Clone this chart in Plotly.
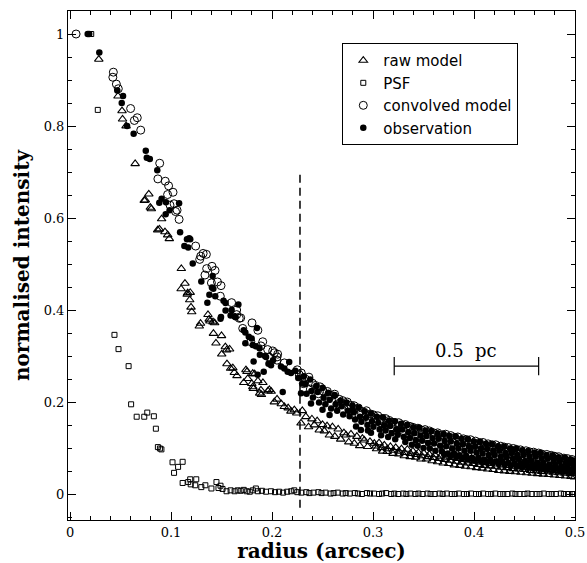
import plotly.graph_objects as go

# ---- data (radius in arcsec, normalised intensity) ----
psf_pts = [
    (0.021, 1.0), (0.0275, 0.835), (0.044, 0.346), (0.048, 0.315), (0.058, 0.278),
    (0.0605, 0.195), (0.066, 0.168), (0.0735, 0.168), (0.0765, 0.177), (0.083, 0.169),
    (0.085, 0.142), (0.087, 0.102), (0.089, 0.099), (0.0905, 0.097), (0.1015, 0.069),
    (0.107, 0.059), (0.1115, 0.070), (0.103, 0.046), (0.1115, 0.024), (0.119, 0.032),
    (0.125, 0.032), (0.117, 0.026), (0.1195, 0.021), (0.124, 0.019), (0.130, 0.015),
    (0.134, 0.019), (0.140, 0.012), (0.145, 0.026), (0.147, 0.013), (0.149, 0.018),
    (0.151, 0.011), (0.155, 0.006), (0.159, 0.008), (0.163, 0.006), (0.166, 0.008),
    (0.169, 0.007), (0.172, 0.009), (0.175, 0.006), (0.178, 0.005), (0.181, 0.008),
    (0.184, 0.012), (0.186, 0.006), (0.190, 0.007), (0.194, 0.005), (0.199, 0.006),
    (0.203, 0.004), (0.207, 0.005), (0.211, 0.003), (0.215, 0.005), (0.219, 0.006),
    (0.222, 0.008), (0.225, 0.004), (0.229, 0.003), (0.234, 0.004), (0.237, 0.002),
    (0.241, 0.003), (0.246, 0.004), (0.249, 0.002), (0.253, 0.003), (0.258, 0.001),
    (0.261, 0.002), (0.265, 0.003), (0.270, 0.001), (0.273, 0.002), (0.277, 0.001),
    (0.282, 0.002), (0.285, 0.001), (0.289, 0.000), (0.294, 0.002), (0.297, 0.001),
    (0.301, 0.001), (0.306, 0.000), (0.309, 0.001), (0.313, 0.002), (0.318, 0.000),
    (0.321, 0.001), (0.325, 0.000), (0.330, 0.001), (0.333, 0.000), (0.337, 0.001),
    (0.342, 0.000), (0.345, 0.001), (0.349, 0.000), (0.354, 0.001), (0.357, 0.000),
    (0.361, 0.000), (0.366, 0.001), (0.369, 0.000), (0.373, 0.001), (0.378, 0.000),
    (0.381, 0.000), (0.385, 0.001), (0.390, 0.000), (0.393, 0.000), (0.397, 0.001),
    (0.402, 0.000), (0.405, 0.000), (0.409, 0.001), (0.414, 0.000), (0.417, 0.000),
    (0.421, 0.001), (0.426, 0.000), (0.429, 0.000), (0.433, 0.000), (0.438, 0.001),
    (0.441, 0.000), (0.445, 0.000), (0.450, 0.000), (0.453, 0.001), (0.457, 0.000),
    (0.462, 0.000), (0.465, 0.000), (0.469, 0.001), (0.474, 0.000), (0.477, 0.000),
    (0.481, 0.000), (0.486, 0.001), (0.489, 0.000), (0.493, 0.000), (0.497, 0.000),
    (0.4995, 0.000),
]

raw_pts = [
    (0.0285, 0.945), (0.0475, 0.865), (0.0515, 0.833), (0.052, 0.815), (0.0555, 0.800),
    (0.0645, 0.718), (0.0735, 0.638), (0.0745, 0.639), (0.078, 0.652), (0.0795, 0.623),
    (0.0805, 0.620), (0.0868, 0.574), (0.0885, 0.576), (0.0907, 0.598), (0.094, 0.570),
    (0.0967, 0.563), (0.0983, 0.555), (0.1102, 0.490), (0.1138, 0.458), (0.110, 0.446),
    (0.1165, 0.437), (0.119, 0.438), (0.116, 0.434), (0.1185, 0.422), (0.1198, 0.406),
    (0.1205, 0.396), (0.128, 0.365), (0.1292, 0.371), (0.1366, 0.390), (0.1378, 0.380),
    (0.1385, 0.376), (0.1416, 0.374), (0.1432, 0.372), (0.142, 0.349), (0.150, 0.344),
    (0.1445, 0.328), (0.1538, 0.320), (0.155, 0.313), (0.158, 0.315), (0.1502, 0.304),
    (0.1554, 0.283), (0.159, 0.273), (0.1612, 0.274), (0.1627, 0.264), (0.1653, 0.257),
    (0.172, 0.242), (0.1742, 0.270), (0.1752, 0.266), (0.176, 0.251), (0.1809, 0.262),
    (0.1828, 0.261), (0.180, 0.240), (0.181, 0.233), (0.1815, 0.229), (0.186, 0.246),
    (0.189, 0.226), (0.191, 0.242), (0.1878, 0.219), (0.1895, 0.216), (0.196, 0.224),
    (0.1974, 0.227), (0.1992, 0.223), (0.2023, 0.200), (0.205, 0.206), (0.2122, 0.190),
    (0.2092, 0.196), (0.216, 0.187), (0.2221, 0.183), (0.2187, 0.180), (0.2245, 0.176),
    (0.2287, 0.154), (0.2300, 0.181), (0.2335, 0.168), (0.2362, 0.146), (0.2395, 0.163),
    (0.2419, 0.150), (0.2447, 0.159), (0.2468, 0.139), (0.2500, 0.151), (0.2518, 0.137),
    (0.2545, 0.148), (0.2568, 0.128), (0.2598, 0.146), (0.2622, 0.125), (0.2655, 0.141),
    (0.2680, 0.119), (0.2712, 0.133), (0.2733, 0.128), (0.2760, 0.113), (0.2782, 0.130),
    (0.2815, 0.110), (0.2840, 0.125), (0.2868, 0.105), (0.2895, 0.121), (0.2914, 0.117),
    (0.2947, 0.103), (0.2970, 0.114), (0.3013, 0.110), (0.3035, 0.098), (0.3060, 0.111),
    (0.3095, 0.093), (0.3112, 0.106), (0.3140, 0.092), (0.3172, 0.103), (0.3198, 0.088),
    (0.3225, 0.101), (0.3255, 0.087), (0.3282, 0.098), (0.3310, 0.083), (0.3340, 0.097),
    (0.3368, 0.081), (0.3395, 0.093), (0.3422, 0.080), (0.3450, 0.090), (0.3475, 0.076),
    (0.3502, 0.089), (0.3530, 0.076), (0.3558, 0.086), (0.3585, 0.072), (0.3612, 0.085),
    (0.3640, 0.070), (0.3668, 0.082), (0.3695, 0.067), (0.3722, 0.080), (0.3750, 0.066),
    (0.3778, 0.079), (0.3805, 0.063), (0.3832, 0.077), (0.3860, 0.062), (0.3888, 0.075),
    (0.3915, 0.060), (0.3942, 0.072), (0.3970, 0.059), (0.3998, 0.071), (0.4025, 0.057),
    (0.4052, 0.069), (0.4080, 0.056), (0.4108, 0.068), (0.4135, 0.054), (0.4162, 0.066),
    (0.4190, 0.053), (0.4218, 0.065), (0.4245, 0.051), (0.4272, 0.063), (0.4300, 0.050),
    (0.4328, 0.062), (0.4355, 0.049), (0.4382, 0.060), (0.4410, 0.048), (0.4438, 0.059),
    (0.4465, 0.047), (0.4492, 0.058), (0.4520, 0.046), (0.4548, 0.056), (0.4575, 0.045),
    (0.4602, 0.056), (0.4630, 0.044), (0.4658, 0.054), (0.4685, 0.043), (0.4712, 0.053),
    (0.4740, 0.042), (0.4768, 0.052), (0.4795, 0.041), (0.4822, 0.050), (0.4850, 0.040),
    (0.4878, 0.049), (0.4905, 0.039), (0.4932, 0.048), (0.4960, 0.038), (0.4985, 0.047),
    (0.4995, 0.037),
    (0.3028, 0.104), (0.3085, 0.101), (0.3142, 0.098), (0.3200, 0.095), (0.3256, 0.093),
    (0.3312, 0.090), (0.3370, 0.088), (0.3426, 0.086), (0.3482, 0.083), (0.3540, 0.081),
    (0.3596, 0.079), (0.3652, 0.077), (0.3710, 0.075), (0.3766, 0.073), (0.3822, 0.071),
    (0.3880, 0.069), (0.3936, 0.067), (0.3992, 0.066), (0.4050, 0.064), (0.4106, 0.062),
    (0.4162, 0.061), (0.4220, 0.060), (0.4276, 0.058), (0.4332, 0.057), (0.4390, 0.055),
    (0.4446, 0.054), (0.4502, 0.053), (0.4560, 0.051), (0.4616, 0.050), (0.4672, 0.049),
    (0.4730, 0.048), (0.4786, 0.047), (0.4842, 0.046), (0.4900, 0.045), (0.4956, 0.044),
]

conv_pts = [
    (0.006, 1.0), (0.0429, 0.917), (0.0424, 0.906), (0.0459, 0.891), (0.0478, 0.881),
    (0.0600, 0.838), (0.0666, 0.818), (0.0637, 0.812), (0.070, 0.791), (0.0888, 0.719),
    (0.087, 0.685), (0.0943, 0.680), (0.0976, 0.670), (0.102, 0.656), (0.0966, 0.651),
    (0.1030, 0.631), (0.099, 0.628), (0.106, 0.617), (0.1045, 0.614), (0.108, 0.597),
    (0.1244, 0.539), (0.1294, 0.517), (0.135, 0.521), (0.1318, 0.523), (0.1284, 0.510),
    (0.1353, 0.490), (0.1406, 0.495), (0.1436, 0.486), (0.1336, 0.476), (0.140, 0.459),
    (0.146, 0.461), (0.1495, 0.453), (0.1488, 0.430), (0.160, 0.416), (0.165, 0.400),
    (0.165, 0.390), (0.169, 0.383), (0.1676, 0.382), (0.1802, 0.372), (0.171, 0.360),
    (0.186, 0.356), (0.179, 0.331), (0.1908, 0.331), (0.189, 0.322), (0.1957, 0.314),
    (0.2007, 0.311), (0.2023, 0.307), (0.205, 0.298), (0.197, 0.298), (0.2056, 0.304),
    (0.2049, 0.291), (0.2122, 0.285), (0.225, 0.270), (0.227, 0.259),
    (0.2290, 0.263), (0.2330, 0.250), (0.2365, 0.254), (0.2400, 0.241), (0.2430, 0.236),
    (0.2475, 0.233), (0.2505, 0.224), (0.2548, 0.223), (0.2590, 0.214), (0.2620, 0.217),
    (0.2665, 0.206), (0.2700, 0.203), (0.2745, 0.200), (0.2780, 0.193), (0.2812, 0.192),
    (0.2855, 0.187), (0.2880, 0.180), (0.2935, 0.181), (0.2975, 0.174), (0.3005, 0.172),
    (0.3048, 0.170), (0.3080, 0.163), (0.3125, 0.164), (0.3160, 0.160), (0.3195, 0.156),
    (0.3255, 0.155), (0.3290, 0.150), (0.3320, 0.151), (0.3365, 0.147), (0.3395, 0.145),
    (0.3445, 0.143), (0.3480, 0.139), (0.3515, 0.140), (0.3560, 0.137), (0.3600, 0.133),
    (0.3640, 0.133), (0.3690, 0.129), (0.3720, 0.130), (0.3770, 0.127), (0.3810, 0.123),
    (0.3840, 0.124), (0.3895, 0.120), (0.3930, 0.118), (0.3965, 0.118), (0.4015, 0.115),
    (0.4055, 0.112), (0.4090, 0.112), (0.4140, 0.109), (0.4180, 0.107), (0.4215, 0.107),
    (0.4265, 0.104), (0.4300, 0.102), (0.4340, 0.101), (0.4390, 0.099), (0.4420, 0.097),
    (0.4460, 0.096), (0.4515, 0.094), (0.4545, 0.092), (0.4590, 0.091), (0.4640, 0.089),
    (0.4670, 0.087), (0.4720, 0.086), (0.4765, 0.084), (0.4800, 0.082), (0.4840, 0.081),
    (0.4890, 0.078), (0.4925, 0.077), (0.4970, 0.075),
    (0.2310, 0.240), (0.2380, 0.228), (0.2460, 0.218), (0.2560, 0.207), (0.2650, 0.196),
    (0.2760, 0.184), (0.2860, 0.173), (0.2960, 0.163), (0.3070, 0.155), (0.3180, 0.146),
    (0.3300, 0.138), (0.3420, 0.131), (0.3540, 0.124), (0.3670, 0.118), (0.3790, 0.112),
    (0.3920, 0.106), (0.4050, 0.101), (0.4180, 0.096), (0.4310, 0.091), (0.4440, 0.087),
    (0.4570, 0.083), (0.4700, 0.079), (0.4830, 0.075), (0.4960, 0.070),
    (0.3720, 0.095), (0.3880, 0.089), (0.4010, 0.083), (0.4160, 0.078), (0.4290, 0.073),
    (0.4430, 0.069), (0.4580, 0.066), (0.4720, 0.062), (0.4860, 0.058), (0.4980, 0.055),
]

obs_pts = [
    (0.0175, 1.0), (0.019, 1.0), (0.029, 0.960), (0.0468, 0.877), (0.0525, 0.865),
    (0.0512, 0.850), (0.0565, 0.800), (0.063, 0.783), (0.075, 0.746), (0.076, 0.731),
    (0.079, 0.728), (0.0864, 0.704), (0.0907, 0.642), (0.0884, 0.633), (0.095, 0.634),
    (0.108, 0.632), (0.0986, 0.617), (0.0947, 0.608), (0.109, 0.569), (0.1158, 0.554),
    (0.119, 0.554), (0.1132, 0.539), (0.117, 0.536), (0.118, 0.556), (0.1215, 0.501),
    (0.1412, 0.474), (0.130, 0.462), (0.1419, 0.446), (0.1405, 0.449), (0.138, 0.433),
    (0.1438, 0.430), (0.152, 0.420), (0.154, 0.415), (0.136, 0.416), (0.1667, 0.412),
    (0.160, 0.400), (0.154, 0.399), (0.159, 0.388), (0.163, 0.386), (0.1495, 0.385),
    (0.164, 0.384), (0.149, 0.381), (0.185, 0.361), (0.1736, 0.351), (0.172, 0.356),
    (0.1798, 0.338), (0.177, 0.342), (0.1736, 0.328), (0.1818, 0.288), (0.1809, 0.324),
    (0.1876, 0.317), (0.184, 0.321), (0.193, 0.300), (0.188, 0.303), (0.1941, 0.298),
    (0.201, 0.291), (0.199, 0.280), (0.1965, 0.283), (0.2089, 0.277), (0.217, 0.287),
    (0.1858, 0.259), (0.1918, 0.266), (0.2155, 0.266), (0.2122, 0.273), (0.2188, 0.263),
    (0.2106, 0.222), (0.2304, 0.240), (0.226, 0.252), (0.2287, 0.219), (0.2386, 0.197),
    (0.2500, 0.183), (0.2570, 0.172), (0.2620, 0.214), (0.2799, 0.183), (0.2832, 0.147),
    (0.3244, 0.139), (0.2950, 0.138), (0.4383, 0.096), (0.4780, 0.080), (0.2230, 0.268),
    (0.2315, 0.256), (0.2330, 0.239), (0.2342, 0.218),
    (0.2378, 0.249), (0.2390, 0.224), (0.2405, 0.210),
    (0.2438, 0.235), (0.2452, 0.222), (0.2466, 0.199),
    (0.2502, 0.231), (0.2511, 0.209), (0.2528, 0.195),
    (0.2556, 0.220), (0.2570, 0.205), (0.2585, 0.186),
    (0.2618, 0.215), (0.2630, 0.195), (0.2645, 0.181),
    (0.2678, 0.203), (0.2690, 0.191), (0.2705, 0.173),
    (0.2738, 0.199), (0.2752, 0.181), (0.2768, 0.169),
    (0.2797, 0.192), (0.2810, 0.178), (0.2822, 0.162),
    (0.2858, 0.188), (0.2870, 0.168), (0.2885, 0.157),
    (0.2918, 0.180), (0.2931, 0.166), (0.2945, 0.150),
    (0.2978, 0.175), (0.2990, 0.158), (0.3004, 0.146),
    (0.3038, 0.168), (0.3052, 0.155), (0.3066, 0.140),
    (0.3098, 0.167), (0.3110, 0.149), (0.3124, 0.138),
    (0.3158, 0.159), (0.3170, 0.148), (0.3185, 0.132),
    (0.3218, 0.158), (0.3231, 0.141), (0.3245, 0.129),
    (0.3278, 0.153), (0.3290, 0.140), (0.3305, 0.124),
    (0.3338, 0.150), (0.3350, 0.134), (0.3365, 0.122),
    (0.3398, 0.145), (0.3410, 0.132), (0.3425, 0.117),
    (0.3458, 0.144), (0.3470, 0.127), (0.3486, 0.116),
    (0.3518, 0.138), (0.3530, 0.126), (0.3545, 0.111),
    (0.3578, 0.137), (0.3590, 0.121), (0.3605, 0.110),
    (0.3638, 0.132), (0.3650, 0.120), (0.3665, 0.105),
    (0.3698, 0.130), (0.3710, 0.115), (0.3725, 0.104),
    (0.3758, 0.126), (0.3770, 0.114), (0.3785, 0.099),
    (0.3818, 0.125), (0.3830, 0.109), (0.3845, 0.099),
    (0.3878, 0.120), (0.3890, 0.108), (0.3905, 0.094),
    (0.3938, 0.119), (0.3950, 0.104), (0.3965, 0.094),
    (0.3998, 0.114), (0.4010, 0.103), (0.4025, 0.090),
    (0.4058, 0.113), (0.4070, 0.099), (0.4085, 0.088),
    (0.4118, 0.109), (0.4130, 0.098), (0.4145, 0.085),
    (0.4178, 0.108), (0.4190, 0.094), (0.4205, 0.085),
    (0.4238, 0.104), (0.4250, 0.094), (0.4265, 0.081),
    (0.4298, 0.103), (0.4310, 0.089), (0.4325, 0.080),
    (0.4358, 0.099), (0.4370, 0.089), (0.4385, 0.077),
    (0.4418, 0.098), (0.4430, 0.085), (0.4445, 0.076),
    (0.4478, 0.095), (0.4490, 0.085), (0.4505, 0.072),
    (0.4538, 0.093), (0.4550, 0.081), (0.4565, 0.072),
    (0.4598, 0.090), (0.4610, 0.081), (0.4625, 0.068),
    (0.4658, 0.089), (0.4670, 0.077), (0.4685, 0.068),
    (0.4718, 0.085), (0.4730, 0.077), (0.4745, 0.064),
    (0.4778, 0.084), (0.4790, 0.072), (0.4805, 0.063),
    (0.4838, 0.080), (0.4850, 0.072), (0.4865, 0.060),
    (0.4898, 0.079), (0.4910, 0.068), (0.4925, 0.059),
    (0.4958, 0.075), (0.4970, 0.067), (0.4982, 0.056),
    (0.4995, 0.073), (0.4992, 0.064), (0.4998, 0.057),
    (0.3320, 0.113), (0.3385, 0.107), (0.3442, 0.105), (0.3500, 0.100), (0.3562, 0.099),
    (0.3618, 0.094), (0.3682, 0.093), (0.3740, 0.088), (0.3802, 0.088), (0.3858, 0.084),
    (0.3922, 0.083), (0.3980, 0.079), (0.4042, 0.079), (0.4098, 0.075), (0.4160, 0.075),
    (0.4222, 0.071), (0.4280, 0.071), (0.4340, 0.068), (0.4402, 0.067), (0.4460, 0.065),
    (0.4522, 0.064), (0.4580, 0.062), (0.4642, 0.061), (0.4700, 0.059), (0.4762, 0.058),
    (0.4820, 0.056), (0.4882, 0.055), (0.4940, 0.053), (0.4990, 0.052),
    (0.3080, 0.128), (0.3150, 0.124), (0.3220, 0.119), (0.2980, 0.133), (0.2880, 0.139),
    (0.3705, 0.086), (0.3765, 0.082), (0.3825, 0.080), (0.3885, 0.078), (0.3945, 0.076),
    (0.4005, 0.073), (0.4065, 0.072), (0.4125, 0.069), (0.4185, 0.068), (0.4245, 0.066),
    (0.4305, 0.064), (0.4365, 0.062), (0.4425, 0.060), (0.4485, 0.059), (0.4545, 0.058),
    (0.4605, 0.056), (0.4665, 0.055), (0.4725, 0.053), (0.4785, 0.052), (0.4845, 0.051),
    (0.4905, 0.049), (0.4965, 0.048),
]

series_names = ["raw model", "PSF", "convolved model", "observation"]
x_ticks = [0, 0.1, 0.2, 0.3, 0.4, 0.5]
x_tick_labels = ["0", "0.1", "0.2", "0.3", "0.4", "0.5"]
y_ticks = [0, 0.2, 0.4, 0.6, 0.8, 1.0]
y_tick_labels = ["0", "0.2", "0.4", "0.6", "0.8", "1"]

core_radius = 0.2277          # dashed vertical marker
core_line_top = 0.70
scale_bar = (0.321, 0.464)    # extent of the 0.5 pc bar in arcsec
scale_bar_level = 0.278
scale_label = "0.5\u00a0 pc"

serif = "DejaVu Serif"

def xs(p):
    return [a for a, _ in p]

def ys(p):
    return [b for _, b in p]

fig = go.Figure()
fig.add_trace(go.Scatter(
    x=xs(raw_pts), y=ys(raw_pts), mode="markers", name=series_names[0],
    marker=dict(symbol="triangle-up-open", size=7.5, color="black", line=dict(width=1.1)),
))
fig.add_trace(go.Scatter(
    x=xs(psf_pts), y=ys(psf_pts), mode="markers", name=series_names[1],
    marker=dict(symbol="square-open", size=5, color="black", line=dict(width=1)),
))
fig.add_trace(go.Scatter(
    x=xs(conv_pts), y=ys(conv_pts), mode="markers", name=series_names[2],
    marker=dict(symbol="circle-open", size=8, color="black", line=dict(width=1)),
))
fig.add_trace(go.Scatter(
    x=xs(obs_pts), y=ys(obs_pts), mode="markers", name=series_names[3],
    marker=dict(symbol="circle", size=6.5, color="black"),
))

# dashed vertical line
fig.add_shape(type="line", xref="x", yref="y", x0=core_radius, x1=core_radius,
              y0=-0.03, y1=core_line_top, line=dict(color="black", width=1.5, dash="8px,5px"))
# scale bar
fig.add_shape(type="line", xref="x", yref="y", x0=scale_bar[0], x1=scale_bar[1],
              y0=scale_bar_level, y1=scale_bar_level, line=dict(color="black", width=1.2))
for sx in scale_bar:
    fig.add_shape(type="line", xref="x", yref="y", x0=sx, x1=sx,
                  y0=scale_bar_level - 0.02, y1=scale_bar_level + 0.02,
                  line=dict(color="black", width=1.2))
fig.add_annotation(x=(scale_bar[0] + scale_bar[1]) / 2, y=scale_bar_level + 0.033,
                   xref="x", yref="y", text=scale_label, showarrow=False,
                   font=dict(family=serif, size=18, color="black"))

axis_common = dict(
    showline=True, linecolor="black", linewidth=1, mirror="ticks",
    ticks="inside", ticklen=8, tickwidth=1, tickcolor="black",
    showgrid=False, zeroline=False,
    tickfont=dict(family=serif, size=13, color="black"),
)

fig.update_xaxes(
    range=[-0.002, 0.5], tickvals=x_ticks, ticktext=x_tick_labels,
    minor=dict(ticks="inside", ticklen=4, dtick=0.02, tick0=0, tickcolor="black", showgrid=False),
    title=dict(text="radius (arcsec)", font=dict(family=serif, size=20, color="black", weight="bold"),
               standoff=8),
    **axis_common,
)
fig.update_yaxes(
    range=[-0.0565, 1.05], tickvals=y_ticks, ticktext=y_tick_labels,
    minor=dict(ticks="inside", ticklen=4, dtick=0.05, tick0=0, tickcolor="black", showgrid=False),
    title=dict(text="normalised intensity", font=dict(family=serif, size=20, color="black", weight="bold"),
               standoff=8),
    **axis_common,
)

fig.update_layout(
    width=587, height=563,
    margin=dict(l=68, r=12, t=11, b=43, autoexpand=False),
    plot_bgcolor="white", paper_bgcolor="white",
    legend=dict(
        x=0.541, y=0.937, xanchor="left", yanchor="top",
        bordercolor="black", borderwidth=1, bgcolor="white",
        font=dict(family="DejaVu Sans", size=15, color="black"),
        itemwidth=30,
    ),
)

fig.write_html("out.html")
